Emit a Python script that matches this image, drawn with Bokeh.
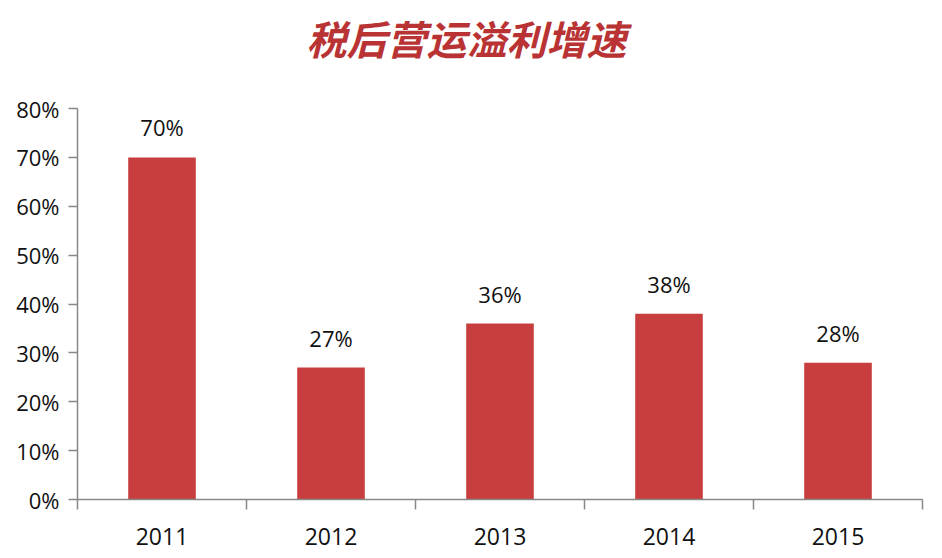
from bokeh.plotting import figure
from bokeh.models import Range1d, FixedTicker, NumeralTickFormatter, ColumnDataSource, Label
from bokeh.core.properties import value
from bokeh.embed import file_html
from bokeh.resources import INLINE

years = ["2011", "2012", "2013", "2014", "2015"]
growth = [0.70, 0.27, 0.36, 0.38, 0.28]
labels = ["70%", "27%", "36%", "38%", "28%"]
y_ticks = [0.0, 0.1, 0.2, 0.3, 0.4, 0.5, 0.6, 0.7, 0.8]
title_text = "税后营运溢利增速"

xs = [i + 0.5 for i in range(len(years))]
src = ColumnDataSource(dict(x=xs, top=growth, lab=labels))

# frame spans the full height (title sits inside it); the y axis line is bounded to 0..80%
y_top = 0.8 * 499 / 391

p = figure(width=942, height=558, output_backend="svg", toolbar_location=None, title=None,
           x_range=Range1d(0, len(years)), y_range=Range1d(0, y_top),
           min_border_left=77, min_border_right=20, min_border_top=0, min_border_bottom=59)
p.outline_line_color = None
p.xgrid.grid_line_color = None
p.ygrid.grid_line_color = None
p.background_fill_color = "white"
p.border_fill_color = "white"

title = Label(x=389, y=462, x_units="screen", y_units="screen", text=title_text,
              text_align="center", text_baseline="middle",
              text_font="Noto Sans CJK SC", text_font_size="40px", text_font_style="bold italic",
              text_color="#b93335")
p.add_layout(title)

p.vbar(x="x", top="top", width=0.4, source=src, fill_color="#c83e3e", line_color=None)
p.text(x="x", y="top", text="lab", source=src, text_align="center", text_baseline="alphabetic",
       y_offset=-30, text_font=value("Open Sans"), text_font_size="22px", text_color="#111111")

axis_color = "#888888"
# x axis
xa = p.xaxis[0]
xa.ticker = FixedTicker(ticks=xs, minor_ticks=list(range(len(years) + 1)))
xa.major_label_overrides = {x: y for x, y in zip(xs, years)}
xa.major_tick_out = 0
xa.major_tick_in = 0
xa.minor_tick_out = 10
xa.minor_tick_in = 0
xa.minor_tick_line_color = axis_color
xa.minor_tick_line_width = 1.5
xa.axis_line_color = axis_color
xa.axis_line_width = 1.5
xa.major_label_text_font = "Open Sans"
xa.major_label_text_font_size = "23px"
xa.major_label_text_color = "#111111"
xa.major_label_standoff = 18

# y axis
ya = p.yaxis[0]
ya.ticker = FixedTicker(ticks=y_ticks, minor_ticks=[])
ya.bounds = (y_ticks[0], y_ticks[-1])
ya.formatter = NumeralTickFormatter(format="0%")
ya.major_tick_out = 9
ya.major_tick_in = 0
ya.major_tick_line_color = axis_color
ya.major_tick_line_width = 1.5
ya.minor_tick_out = 0
ya.axis_line_color = axis_color
ya.axis_line_width = 1.5
ya.major_label_text_font = "Open Sans"
ya.major_label_text_font_size = "22px"
ya.major_label_text_color = "#111111"
ya.major_label_standoff = 9

open("out.html", "w").write(file_html(p, INLINE))
